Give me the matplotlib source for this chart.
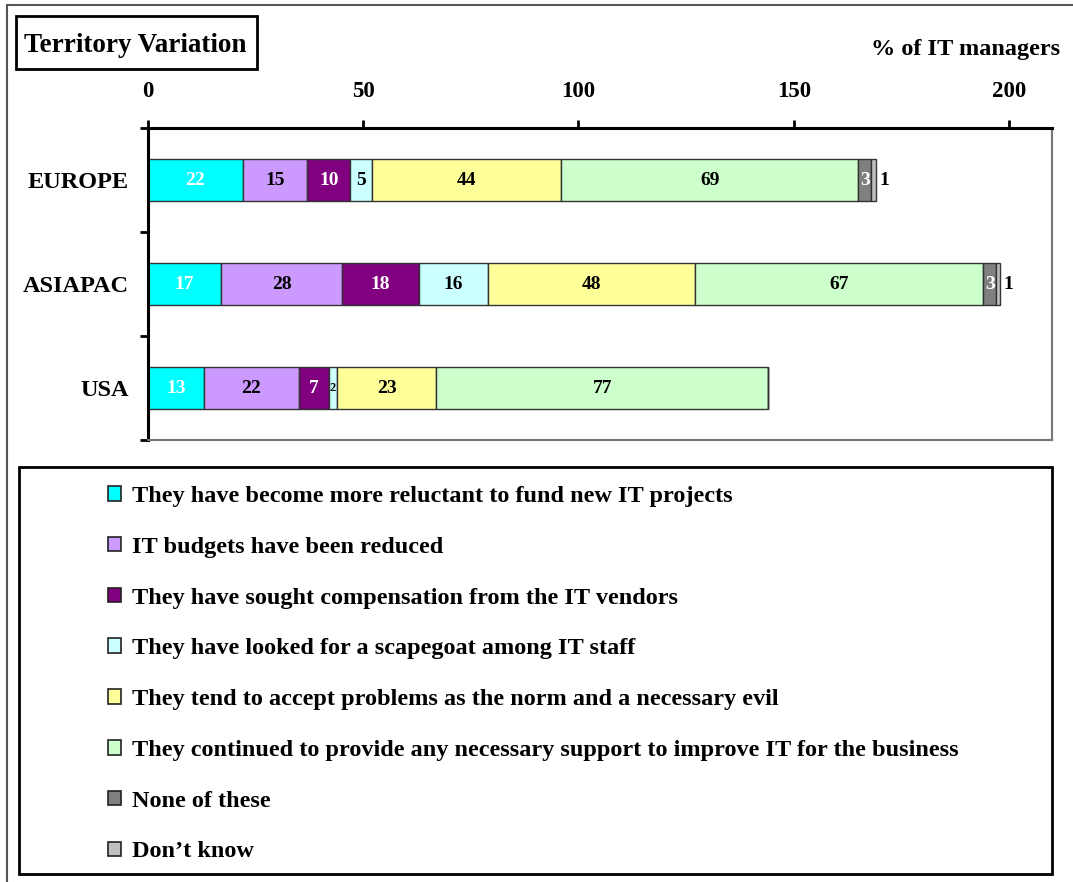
import numpy as np
import matplotlib; matplotlib.use('Agg')
import matplotlib.pyplot as plt
from matplotlib.patches import Rectangle, Patch

plt.rcParams['font.family'] = ['Liberation Serif', 'DejaVu Serif']
plt.rcParams['font.weight'] = 'bold'

# ---- data ----
regions = ["EUROPE", "ASIAPAC", "USA"]
series = ["They have become more reluctant to fund new IT projects",
          "IT budgets have been reduced",
          "They have sought compensation from the IT vendors",
          "They have looked for a scapegoat among IT staff",
          "They tend to accept problems as the norm and a necessary evil",
          "They continued to provide any necessary support to improve IT for the business",
          "None of these",
          "Don\u2019t know"]
europe = [22, 15, 10, 5, 44, 69, 3, 1]
asiapac = [17, 28, 18, 16, 48, 67, 3, 1]
usa = [13, 22, 7, 2, 23, 77, 0, 0]
xticks = [0, 50, 100, 150, 200]

colors = ['#00FFFF', '#CC99FF', '#800080', '#CCFFFF', '#FFFF99', '#CCFFCC', '#808080', '#C0C0C0']
txtcol = ['white', 'black', 'white', 'black', 'black', 'black', 'white', 'black']

W, H = 1073, 882
fig = plt.figure(figsize=(W/100, H/100), dpi=100)

# outer frame (right/bottom run off the page)
fig.patches.append(Rectangle((7/W, -10/H), 1100/W, (882-5+10)/H, transform=fig.transFigure,
                             fill=False, ec='#555555', lw=1.5))
# title box
fig.patches.append(Rectangle((16/W, 1-69/H), 241/W, 53/H, transform=fig.transFigure,
                             fill=False, ec='black', lw=2))
fig.text(24/W, 1-45/H, "Territory Variation", fontsize=19.5, fontweight='bold', va='center', ha='left')
fig.text(1060/W, 1-50/H, "% of IT managers", fontsize=17.5, fontweight='bold', va='center', ha='right')

ax = fig.add_axes([148/W, 1-440/H, (1052-148)/W, (440-128)/H])
data = np.array([europe, asiapac, usa])
y = np.arange(len(regions))
left = np.zeros(len(regions))
bh = 0.41
for j, name in enumerate(series):
    vals = data[:, j]
    ax.barh(y, vals, left=left, height=bh, color=colors[j], edgecolor='#333333', lw=1.0)
    for i, v in enumerate(vals):
        if v == 0:
            continue
        if j == 7:
            ax.text(left[i] + v + 0.8, y[i], f"{v}", ha='left', va='center', fontsize=14,
                    fontweight='bold', color='black')
        elif v == 2:
            ax.text(left[i] + v/2, y[i], f"{v}", ha='center', va='center', fontsize=9,
                    fontweight='bold', color=txtcol[j])
        else:
            ax.text(left[i] + v/2, y[i], f"{v}", ha='center', va='center', fontsize=14,
                    fontweight='bold', color=txtcol[j])
    left = left + vals

ax.set_xlim(0, 210)
ax.set_ylim(2.5, -0.5)
ax.xaxis.tick_top()
ax.set_xticks(xticks)
ax.set_xticklabels([str(t) for t in xticks], fontsize=16.5, fontweight='bold')
ax.tick_params(axis='x', direction='out', length=6, width=2, pad=13)
ax.set_yticks(y)
ax.set_yticklabels(regions, fontsize=17.5, fontweight='bold')
ax.tick_params(axis='y', which='major', length=0, pad=14)
ax.set_yticks([-0.5, 0.5, 1.5, 2.5], minor=True)
ax.tick_params(axis='y', which='minor', direction='out', length=6, width=2)
for s in ['top', 'left']:
    ax.spines[s].set_linewidth(2.2)
    ax.spines[s].set_color('black')
for s in ['right', 'bottom']:
    ax.spines[s].set_linewidth(1.5)
    ax.spines[s].set_color('#777777')

# legend box
fig.patches.append(Rectangle((19/W, 1-874/H), 1033/W, 407/H, transform=fig.transFigure,
                             fill=False, ec='black', lw=2))
handles = [Patch(facecolor=c, edgecolor='#222222', lw=1.2) for c in colors]
fig.legend(handles, series, loc='upper left', bbox_to_anchor=(108/W, 1-486/H),
           frameon=False, borderpad=0, borderaxespad=0, handlelength=0.55, handleheight=0.55,
           handletextpad=0.45, labelspacing=1.225, prop={'weight': 'bold', 'size': 17.5})

fig.savefig("out.png", dpi=100)
